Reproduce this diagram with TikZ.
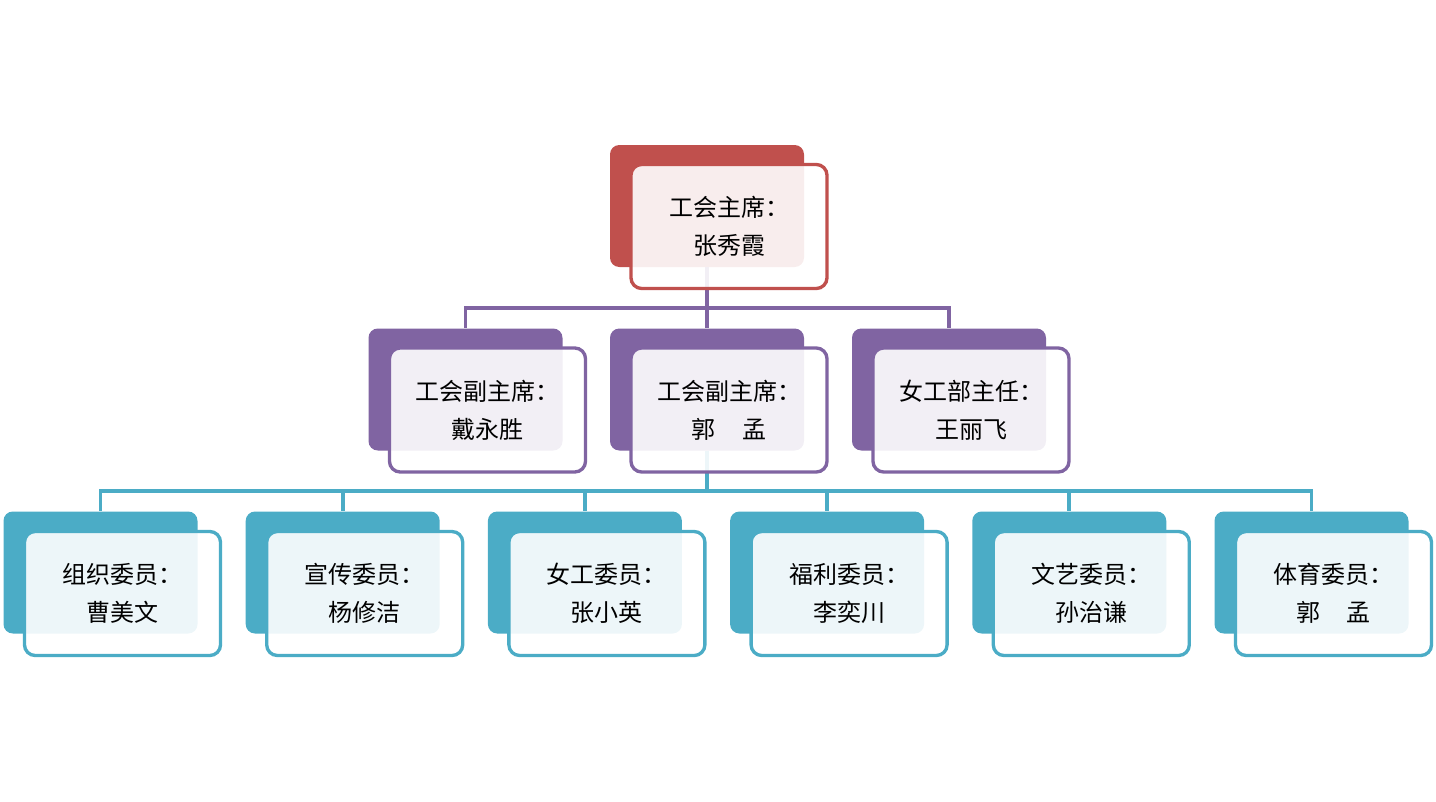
\documentclass[tikz,border=0pt]{standalone}
\usepackage{fontspec}
\setmainfont{Noto Sans CJK SC}
\usetikzlibrary{positioning}
\definecolor{redA}{HTML}{C0504D}
\definecolor{purpleA}{HTML}{8064A2}
\definecolor{blueA}{HTML}{4BACC6}

\begin{document}
\begin{tikzpicture}[x=0.75pt,y=-0.75pt,
    back/.style={rectangle,rounded corners=7pt,fill=#1,minimum width=145.5pt,minimum height=91.5pt},
    front/.style={rectangle,rounded corners=8pt,draw=#1,line width=2.5pt,fill=white,fill opacity=0.9,text opacity=1,
      minimum width=147pt,minimum height=93pt,align=center,font=\fontsize{18}{28.5}\selectfont},
    link/.style={draw=#1,line width=2.8pt}]
    \useasboundingbox (0,0) rectangle (1436,801);
    % back boxes
    \node[back=redA] (chair) at (707,206) {};
    \node[back=purpleA] (vicea) at (465.5,389.5) {};
    \node[back=purpleA] (viceb) at (707,389.5) {};
    \node[back=purpleA] (women) at (949,389.5) {};
    \foreach \i in {1,...,6}
        \node[back=blueA] (m\i) at ({100.5+242.2*(\i-1)},572.5) {};
    % connectors
    \coordinate (bus1) at (707,308);
    \coordinate (bus2) at (707,491);
    \foreach \n in {vicea,viceb,women}
        \draw[link=purpleA] (chair.south) |- (\n.north |- bus1) -- (\n.north);
    \foreach \i in {1,...,6}
        \draw[link=blueA] (viceb.south) |- (m\i.north |- bus2) -- (m\i.north);
    % front boxes
    \node[front=redA] (chairf) at ([shift={(22,20.5)}]chair.center) {工会主席：\\张秀霞};
    \node[front=purpleA] (viceaf) at ([shift={(22,20.5)}]vicea.center) {工会副主席：\\戴永胜};
    \node[front=purpleA] (vicebf) at ([shift={(22,20.5)}]viceb.center) {工会副主席：\\郭\hspace{1.1em}孟};
    \node[front=purpleA] (womenf) at ([shift={(22,20.5)}]women.center) {女工部主任：\\王丽飞};
    \foreach \i/\t/\p in {1/组织委员/曹美文,2/宣传委员/杨修洁,3/女工委员/张小英,
                          4/福利委员/李奕川,5/文艺委员/孙治谦,6/体育委员/郭\hspace{1.1em}孟}
        \node[front=blueA] (m\i f) at ([shift={(22,21)}]m\i.center) {\t：\\\p};
\end{tikzpicture}
\end{document}
